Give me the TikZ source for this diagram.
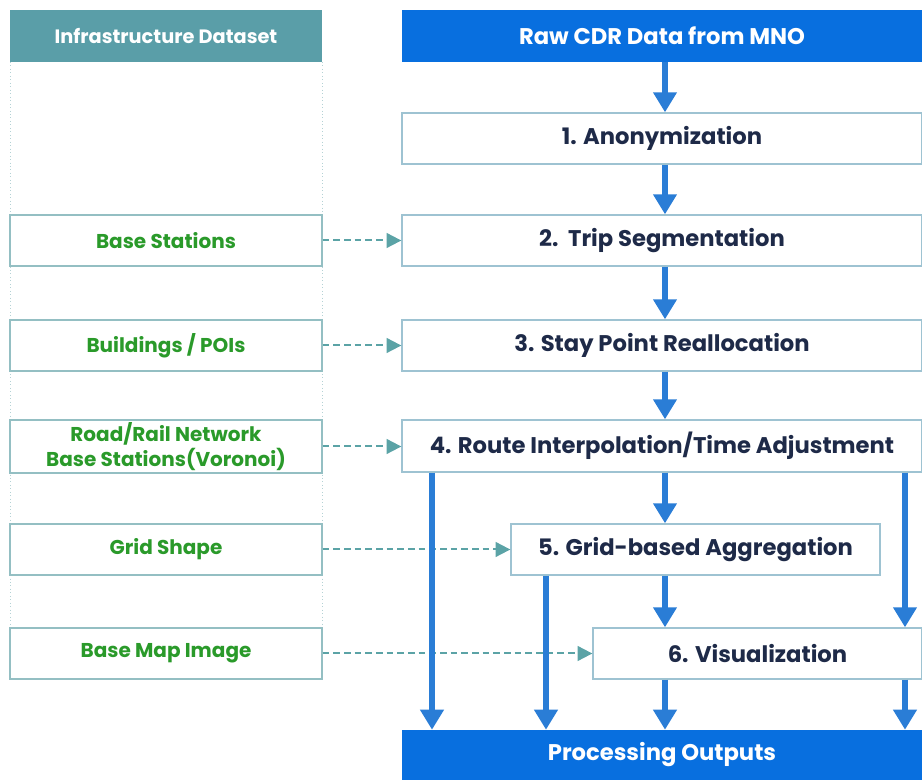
\documentclass[tikz,border=0pt]{standalone}
\usepackage{fontspec}
\setmainfont{Poppins}
\usetikzlibrary{arrows.meta}
\definecolor{headteal}{HTML}{5A9EA8}
\definecolor{headblue}{HTML}{086FDF}
\definecolor{flowblue}{HTML}{2A7DD6}
\definecolor{linkteal}{HTML}{5BA3A6}
\definecolor{boxline}{HTML}{9EC3D2}
\definecolor{sideline}{HTML}{94BFC3}
\definecolor{navytext}{HTML}{1E2A48}
\definecolor{greentext}{HTML}{2A9A2A}
\tikzset{
  headbox/.style={draw=none, inner sep=0pt, text=white, font=\fontsize{17}{20}\selectfont\bfseries},
  procbox/.style={draw=boxline, line width=1pt, fill=white, inner sep=0pt, text=navytext,
    font=\fontsize{17}{20}\selectfont\bfseries},
  sidebox/.style={draw=sideline, line width=1pt, fill=white, inner sep=0pt, text=greentext,
    align=center, font=\fontsize{15}{18.5}\selectfont\bfseries},
  flow/.style={draw=flowblue, line width=5pt,
    -{Triangle[length=15pt,width=17pt,fill=flowblue]}, shorten >=0pt},
  link/.style={draw=linkteal, line width=1.5pt, dash pattern=on 5pt off 3pt,
    -{Triangle[length=11pt,width=11pt,fill=linkteal]}}
}
\begin{document}
\begin{tikzpicture}[x=0.75pt,y=-0.75pt]
\useasboundingbox (0,0) rectangle (922,780);
% column outline of the dataset side
\draw[sideline!70, line width=0.6pt, dotted] (10,62) -- (10,680) (322,62) -- (322,680);
% headers
\node[headbox, fill=headteal, minimum width=234pt, minimum height=39pt,
  font=\fontsize{14.5}{17}\selectfont\bfseries] (infra) at (166,36) {Infrastructure Dataset};
\node[headbox, fill=headblue, minimum width=390pt, minimum height=39pt] (raw) at (662,36) {Raw CDR Data from MNO};
% processing steps
\node[procbox, minimum width=390pt, minimum height=38.25pt] (s1) at (662,138.5) {1. Anonymization};
\node[procbox, minimum width=390pt, minimum height=38.25pt] (s2) at (662,240.5) {2.\ \ Trip Segmentation};
\node[procbox, minimum width=390pt, minimum height=38.25pt] (s3) at (662,345.5) {3. Stay Point Reallocation};
\node[procbox, minimum width=390pt, minimum height=39pt] (s4) at (662,446) {4. Route Interpolation/Time Adjustment};
\node[procbox, minimum width=276.75pt, minimum height=38.25pt] (s5) at (695.5,549.5) {5. Grid-based Aggregation};
\node[procbox, minimum width=246.75pt, minimum height=38.25pt] (s6) at (757.5,653.5) {6. Visualization};
\node[headbox, fill=headblue, minimum width=390pt, minimum height=37.5pt] (out) at (662,755) {Processing Outputs};
% infrastructure inputs
\node[sidebox, minimum width=234pt, minimum height=38.25pt] (d1) at (166,240.5) {Base Stations};
\node[sidebox, minimum width=234pt, minimum height=38.25pt] (d2) at (166,345.5) {Buildings / POIs};
\node[sidebox, minimum width=234pt, minimum height=39.75pt] (d3) at (166,446.5) {Road/Rail Network\\Base Stations(Voronoi)};
\node[sidebox, minimum width=234pt, minimum height=38.25pt] (d4) at (166,549.5) {Grid Shape};
\node[sidebox, minimum width=234pt, minimum height=38.25pt] (d5) at (166,653.5) {Base Map Image};
% dataset links
\draw[link] (d1.east) -- (s2.west);
\draw[link] (d2.east) -- (s3.west);
\draw[link] (d3.east) -- (s4.west |- d3.east);
\draw[link] (d4.east) -- (s5.west);
\draw[link] (d5.east) -- (s6.west);
% main flow
\draw[flow] (raw.south -| 665,0) -- (s1.north -| 665,0);
\draw[flow] (s1.south -| 665,0) -- (s2.north -| 665,0);
\draw[flow] (s2.south -| 665,0) -- (s3.north -| 665,0);
\draw[flow] (s3.south -| 665,0) -- (s4.north -| 665,0);
\draw[flow] (s4.south -| 665,0) -- (s5.north -| 665,0);
\draw[flow] (s5.south -| 665,0) -- (s6.north -| 665,0);
\draw[flow] (s6.south -| 665,0) -- (out.north -| 665,0);
% bypass flows
\draw[flow] (s4.south -| 432,0) -- (out.north -| 432,0);
\draw[flow] (s4.south -| 905,0) -- (s6.north -| 905,0);
\draw[flow] (s5.south -| 546,0) -- (out.north -| 546,0);
\draw[flow] (s6.south -| 905,0) -- (out.north -| 905,0);
\end{tikzpicture}
\end{document}
